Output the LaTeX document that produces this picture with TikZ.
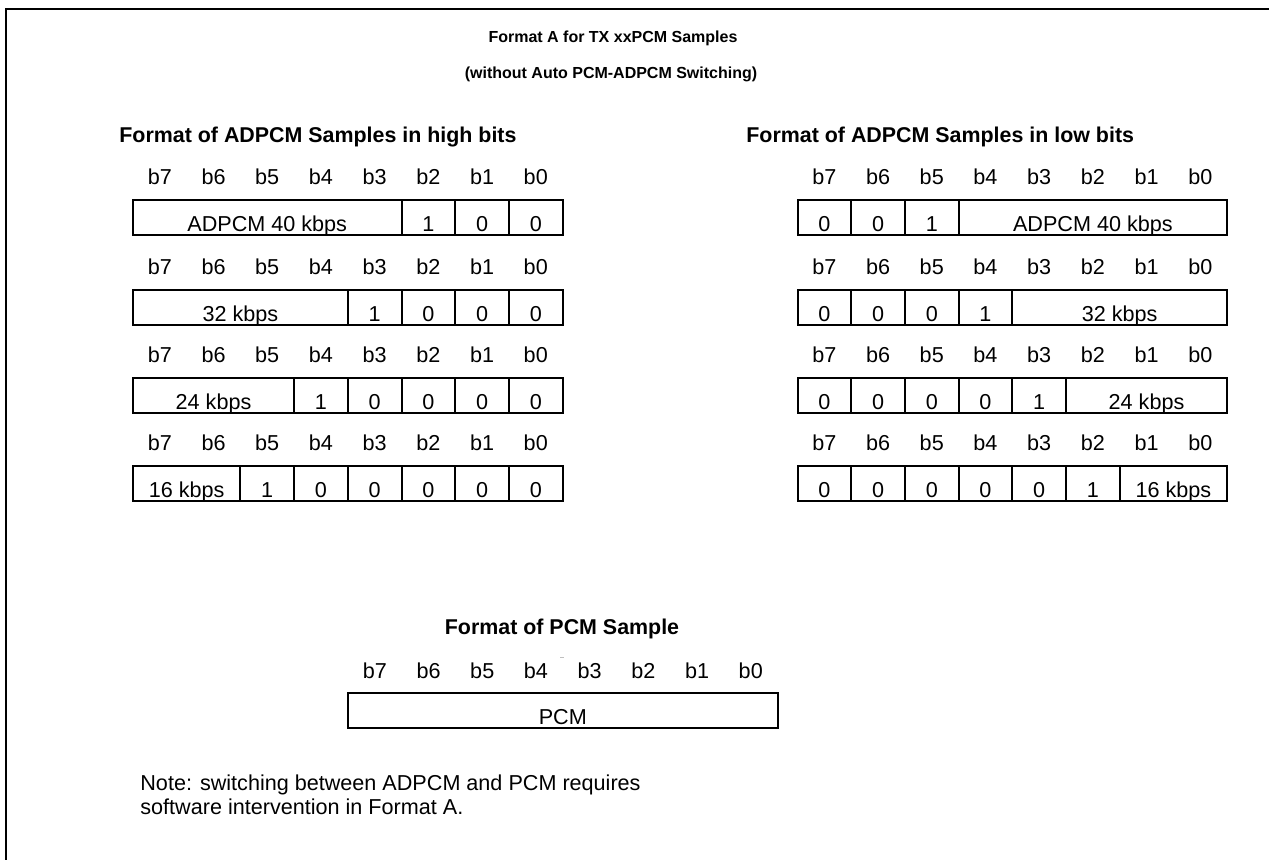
\documentclass[tikz,border=0pt]{standalone}
\usepackage{fontspec}
\setmainfont{Liberation Sans}
\usetikzlibrary{calc}
\tikzset{
  field/.style={draw, line width=1pt, inner sep=0pt, outer sep=0pt,
    minimum height=17.5pt, text height=14pt, text depth=0pt}, % one field of a register
  bit/.style={anchor=base, inner sep=0pt}, % bit numbers over the cells
  head/.style={anchor=base west, inner sep=0pt, font=\fontsize{10.7}{12}\selectfont\bfseries},
  title/.style={anchor=base, inner sep=0pt, font=\fontsize{8}{9}\selectfont\bfseries},
}
\def\cw{26.85pt} % width of one bit cell

% #1 name, #2 x, #3 y of the top left corner, #4 list of cells/text
\newcommand{\bitrow}[4]{%
  \node[inner sep=0pt, outer sep=0pt, minimum size=0pt] (#1-0) at (#2,#3) {};
  \foreach \w/\t [count=\k, remember=\k as \j (initially 0)] in {#4}
    \node[field, minimum width=\w*\cw, anchor=north west] (#1-\k) at (#1-\j.north east) {\t};
  \foreach \b [evaluate=\b as \n using int(7-\b)] in {0,...,7}
    \node[bit] (#1-b\n) at ($(#1-0)+({(\b+0.5)*53.7},-15)$) {b\n};
}

\begin{document}
\begin{tikzpicture}[x=0.5pt, y=-0.5pt, font=\fontsize{10.8}{12}\selectfont]
  \useasboundingbox (0,0) rectangle (1269,860);
  \draw[line width=1pt] (6,860) -- (6,9) -- (1269,9);

  % titles
  \node[title] (t1) at (613,43) {Format A for TX xxPCM Samples};
  \node[title] (t2) at (611,79) {(without Auto PCM-ADPCM Switching)};
  \node[head] (hhigh) at (119,143) {Format of ADPCM Samples in high bits};
  \node[head] (hlow) at (746,143) {Format of ADPCM Samples in low bits};

  % ADPCM in high bits
  \bitrow{h40}{133}{200}{5/ADPCM 40 kbps, 1/1, 1/0, 1/0}
  \bitrow{h32}{133}{290}{4/32 kbps, 1/1, 1/0, 1/0, 1/0}
  \bitrow{h24}{133}{378}{3/24 kbps, 1/1, 1/0, 1/0, 1/0, 1/0}
  \bitrow{h16}{133}{466}{2/16 kbps, 1/1, 1/0, 1/0, 1/0, 1/0, 1/0}

  % ADPCM in low bits
  \bitrow{l40}{797.5}{200}{1/0, 1/0, 1/1, 5/ADPCM 40 kbps}
  \bitrow{l32}{797.5}{290}{1/0, 1/0, 1/0, 1/1, 4/32 kbps}
  \bitrow{l24}{797.5}{378}{1/0, 1/0, 1/0, 1/0, 1/1, 3/24 kbps}
  \bitrow{l16}{797.5}{466}{1/0, 1/0, 1/0, 1/0, 1/0, 1/1, 2/16 kbps}

  % PCM
  \node[head, anchor=base] (hpcm) at (562,635) {Format of PCM Sample};
  \draw[gray!50, line width=0.4pt] (560,657) -- (564,657);
  \bitrow{pcm}{348}{693}{8/PCM}

  % note
  \node[anchor=base west, inner sep=0pt, align=left] (note) at (140,814)
    {Note: switching between ADPCM and PCM requires\\software intervention in Format A.};
\end{tikzpicture}
\end{document}
